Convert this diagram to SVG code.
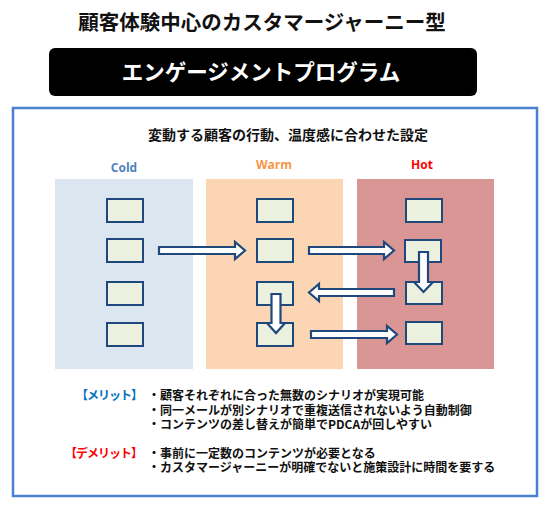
<svg xmlns="http://www.w3.org/2000/svg" width="550" height="508" viewBox="0 0 550 508">
<style>
.jp{font-family:"Noto Sans CJK JP","Noto Sans",sans-serif;font-weight:bold}
.lbl{font-family:"Open Sans","Liberation Sans",sans-serif;font-weight:bold;font-size:12px;text-anchor:middle}
.box{fill:#ebf1de;stroke:#1f497d;stroke-width:2}
.arr{fill:#ffffff;stroke:#1f497d;stroke-width:2.2;stroke-linejoin:miter}
.txt{font-size:12px}
.blk{fill:#111}
.blue{fill:#0070c0}
.red{fill:#ff0000}
.tag{text-anchor:end;letter-spacing:-1px}
</style>
<rect width="550" height="508" fill="#ffffff"/>
<g id="title">
<text class="jp" x="262" y="30" font-size="20.5" text-anchor="middle" fill="#111">顧客体験中心のカスタマージャーニー型</text>
</g>
<g id="banner">
<rect x="49" y="48" width="428" height="48" rx="6" fill="#000"/>
<text class="jp" x="261" y="80" font-size="21.5" text-anchor="middle" fill="#fff">エンゲージメントプログラム</text>
</g>
<g id="frame">
<rect x="13" y="108" width="524" height="388" fill="none" stroke="#4a80d0" stroke-width="2.5"/>
<text class="jp" x="288" y="140" font-size="14" text-anchor="middle" fill="#111">変動する顧客の行動、温度感に合わせた設定</text>
</g>
<g id="cold">
<rect x="55" y="179" width="138" height="190" fill="#dce6f1"/>
<text class="lbl" x="124" y="172" fill="#4f81bd">Cold</text>
<rect class="box" x="107" y="199" width="36" height="23"/>
<rect class="box" x="107" y="239" width="36" height="23"/>
<rect class="box" x="107" y="282" width="36" height="23"/>
<rect class="box" x="107" y="323" width="36" height="23"/>
</g>
<g id="warm">
<rect x="206" y="179" width="137" height="190" fill="#fcd5b4"/>
<text class="lbl" x="274" y="169" fill="#f79646">Warm</text>
<rect class="box" x="257" y="199" width="36" height="23"/>
<rect class="box" x="257" y="239" width="36" height="23"/>
<rect class="box" x="257" y="282" width="36" height="23"/>
<rect class="box" x="257" y="323" width="36" height="23"/>
</g>
<g id="hot">
<rect x="357" y="179" width="137" height="190" fill="#da9694"/>
<text class="lbl" x="422" y="169" fill="#ff0000">Hot</text>
<rect class="box" x="406" y="199" width="36" height="23"/>
<rect class="box" x="405" y="240" width="36" height="22"/>
<rect class="box" x="406" y="282" width="36" height="22"/>
<rect class="box" x="406" y="322" width="36" height="22"/>
</g>
<g id="connectors">
<polygon class="arr" points="159,247 235,247 235,242 245,250.5 235,259 235,254 159,254"/>
<polygon class="arr" points="309,247 384,247 384,242 394,250.5 384,259 384,254 309,254"/>
<polygon class="arr" points="394,289 319,289 319,284 309,292.5 319,301 319,296 394,296"/>
<polygon class="arr" points="311,331 387,331 387,326 397,334.5 387,343 387,338 311,338"/>
<polygon class="arr" points="271.5,294 280.5,294 280.5,323 285,323 276,333 267,323 271.5,323"/>
<polygon class="arr" points="419,252 428,252 428,282 433,282 423.5,292 414,282 419,282"/>
</g>
<g id="notes">
<text class="jp txt blue tag" x="142" y="400">【メリット】</text>
<text class="jp txt blk" x="148" y="400">・顧客それぞれに合った無数のシナリオが実現可能</text>
<text class="jp txt blk" x="148" y="415">・同一メールが別シナリオで重複送信されないよう自動制御</text>
<text class="jp txt blk" x="148" y="429">・コンテンツの差し替えが簡単でPDCAが回しやすい</text>
<text class="jp txt red tag" x="142" y="458">【デメリット】</text>
<text class="jp txt blk" x="148" y="458">・事前に一定数のコンテンツが必要となる</text>
<text class="jp txt blk" x="148" y="472">・カスタマージャーニーが明確でないと施策設計に時間を要する</text>
</g>
</svg>
